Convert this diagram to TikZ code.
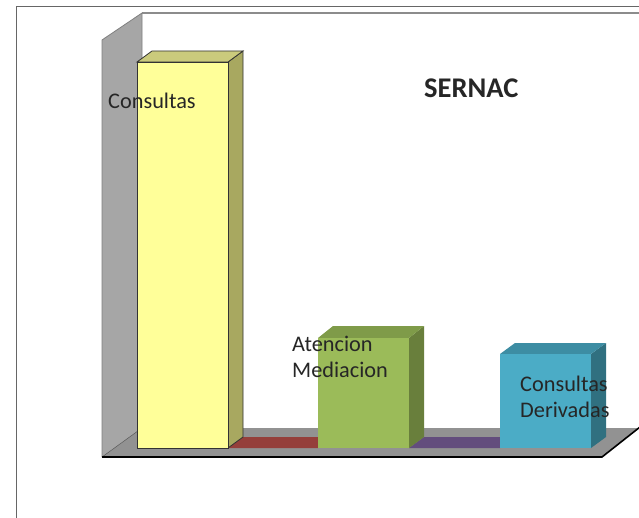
\documentclass[tikz,border=0pt]{standalone}
\usepackage{fontspec}
\setmainfont{Carlito}
\definecolor{wallgray}{HTML}{A6A6A6}
\definecolor{floorgray}{HTML}{929292}
\definecolor{txt}{HTML}{262626}
\definecolor{yfront}{HTML}{FFFF99}
\definecolor{yside}{HTML}{A8A860}
\definecolor{ytop}{HTML}{CACA7C}
\definecolor{gfront}{HTML}{9BBB59}
\definecolor{gside}{HTML}{697F3C}
\definecolor{gtop}{HTML}{7F9B49}
\definecolor{bfront}{HTML}{4BACC6}
\definecolor{bside}{HTML}{307080}
\definecolor{btop}{HTML}{3D8DA3}
\definecolor{redser}{HTML}{953F3B}
\definecolor{purser}{HTML}{634D7D}
\tikzset{
  lbl/.style={anchor=base west, inner sep=0pt, text=txt, font=\fontsize{22.3}{26}\selectfont},
  title/.style={anchor=base west, inner sep=0pt, text=txt, font=\fontsize{28.5}{32}\selectfont\bfseries},
}
\begin{document}
\begin{tikzpicture}[x=1pt,y=-1pt]
\useasboundingbox (0,0) rectangle (639,518);
\fill[white] (0,0) rectangle (639,518);
% outer frame
\draw[gray!80!black, line width=1.2pt] (16.5,518) -- (16.5,6.5) -- (639,6.5);
% back wall
\draw[gray!90, line width=1.5pt] (142,13) -- (639,13);
% side wall
\fill[wallgray] (102,40) -- (142,13) -- (142,428) -- (102,457) -- cycle;
\draw[gray, line width=0.8pt] (102,457) -- (102,40) -- (142,13) -- (142,428);
% floor
\fill[floorgray] (102,457) -- (142,428) -- (638,428) -- (602,457) -- cycle;
\draw[gray!60!black, line width=0.4pt] (102,457) -- (142,428);
\draw[black, line width=1.6pt] (102,457) -- (602,457) -- (640,427);
% zero series
\fill[redser] (228,448) -- (243,437) -- (333,437) -- (318,448) -- cycle;
\fill[purser] (409,448) -- (424,437) -- (515,437) -- (500,448) -- cycle;
% Consultas bar
\filldraw[fill=yside, draw=black!80, line width=0.8pt] (228,448) -- (228,62) -- (243,51) -- (243,437) -- cycle;
\filldraw[fill=ytop, draw=black!80, line width=0.8pt] (137,62) -- (152,51) -- (243,51) -- (228,62) -- cycle;
\filldraw[fill=yfront, draw=black!80, line width=0.8pt] (137,62) rectangle (228,448);
% Atencion Mediacion bar
\fill[gside] (409,448) -- (409,338) -- (424,326) -- (424,437) -- cycle;
\fill[gtop] (318,338) -- (333,326) -- (424,326) -- (409,338) -- cycle;
\fill[gfront] (318,338) rectangle (409,448);
% Consultas Derivadas bar
\fill[bside] (591,448) -- (591,354) -- (606,343) -- (606,437) -- cycle;
\fill[btop] (500,354) -- (515,343) -- (606,343) -- (591,354) -- cycle;
\fill[bfront] (500,354) rectangle (591,448);
% labels
\node[title] (t) at (424,97.5) {SERNAC};
\node[lbl] (l1) at (108,109) {Consultas};
\node[lbl] (l2a) at (292,351) {Atencion};
\node[lbl] (l2b) at (292,377.5) {Mediacion};
\node[lbl] (l3a) at (520,391.5) {Consultas};
\node[lbl] (l3b) at (520,417.5) {Derivadas};
\end{tikzpicture}
\end{document}
